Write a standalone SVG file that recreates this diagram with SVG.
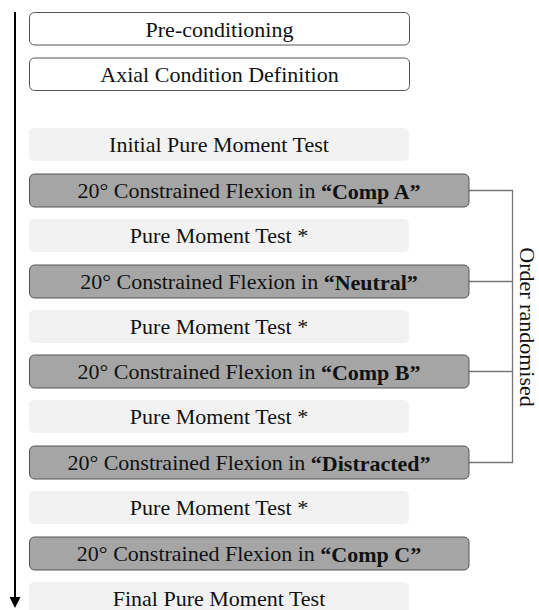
<svg xmlns="http://www.w3.org/2000/svg" width="539" height="610" viewBox="0 0 539 610">
<style>
text{font-family:"Liberation Serif","Times New Roman",serif;font-size:22px;fill:#111;text-anchor:middle;dominant-baseline:central}
.o{fill:#fff;stroke:#555;stroke-width:1}
.l{fill:#f2f2f2;stroke:none}
.g{fill:#a5a5a5;stroke:#555;stroke-width:1}
.b{font-weight:bold}
.c{fill:none;stroke:#777;stroke-width:1.3}
</style>
<g id="connectors">
<line x1="15" y1="12" x2="15" y2="598" stroke="#000" stroke-width="2"/>
<path d="M9.5,597 L20.5,597 L15,608 z" fill="#000"/>
<path class="c" d="M469,190.5 H512.5 V462.5 H469 M469,281.5 H512.5 M469,371.5 H512.5"/>
</g>
<g id="n1"><rect class="o" x="29.5" y="12.5" width="380" height="32.5" rx="5"/><text x="219.5" y="29">Pre-conditioning</text></g>
<g id="n2"><rect class="o" x="29.5" y="58" width="380" height="32.5" rx="5"/><text x="219.5" y="74.5">Axial Condition Definition</text></g>
<g id="n3"><rect class="l" x="29" y="128" width="380" height="33" rx="5"/><text x="219" y="144.5">Initial Pure Moment Test</text></g>
<g id="n4"><rect class="g" x="29.5" y="174" width="439.5" height="33" rx="5"/><text x="249" y="190.5">20° Constrained Flexion in <tspan class="b">“Comp A”</tspan></text></g>
<g id="n5"><rect class="l" x="29" y="219" width="380" height="33" rx="5"/><text x="219" y="235.5">Pure Moment Test *</text></g>
<g id="n6"><rect class="g" x="29.5" y="265" width="439.5" height="33" rx="5"/><text x="249" y="281.5">20° Constrained Flexion in <tspan class="b">“Neutral”</tspan></text></g>
<g id="n7"><rect class="l" x="29" y="310" width="380" height="33" rx="5"/><text x="219" y="326.5">Pure Moment Test *</text></g>
<g id="n8"><rect class="g" x="29.5" y="355" width="439.5" height="33" rx="5"/><text x="249" y="371.5">20° Constrained Flexion in <tspan class="b">“Comp B”</tspan></text></g>
<g id="n9"><rect class="l" x="29" y="400" width="380" height="33" rx="5"/><text x="219" y="416.5">Pure Moment Test *</text></g>
<g id="n10"><rect class="g" x="29.5" y="446" width="439.5" height="33" rx="5"/><text x="249" y="462.5">20° Constrained Flexion in <tspan class="b">“Distracted”</tspan></text></g>
<g id="n11"><rect class="l" x="29" y="491" width="380" height="33" rx="5"/><text x="219" y="507.5">Pure Moment Test *</text></g>
<g id="n12"><rect class="g" x="29.5" y="537" width="439.5" height="33" rx="5"/><text x="249" y="553.5">20° Constrained Flexion in <tspan class="b">“Comp C”</tspan></text></g>
<g id="n13"><rect class="l" x="29" y="582" width="380" height="33" rx="5"/><text x="219" y="598.5">Final Pure Moment Test</text></g>
<g id="label"><text transform="translate(527,327) rotate(90)">Order randomised</text></g>
</svg>
